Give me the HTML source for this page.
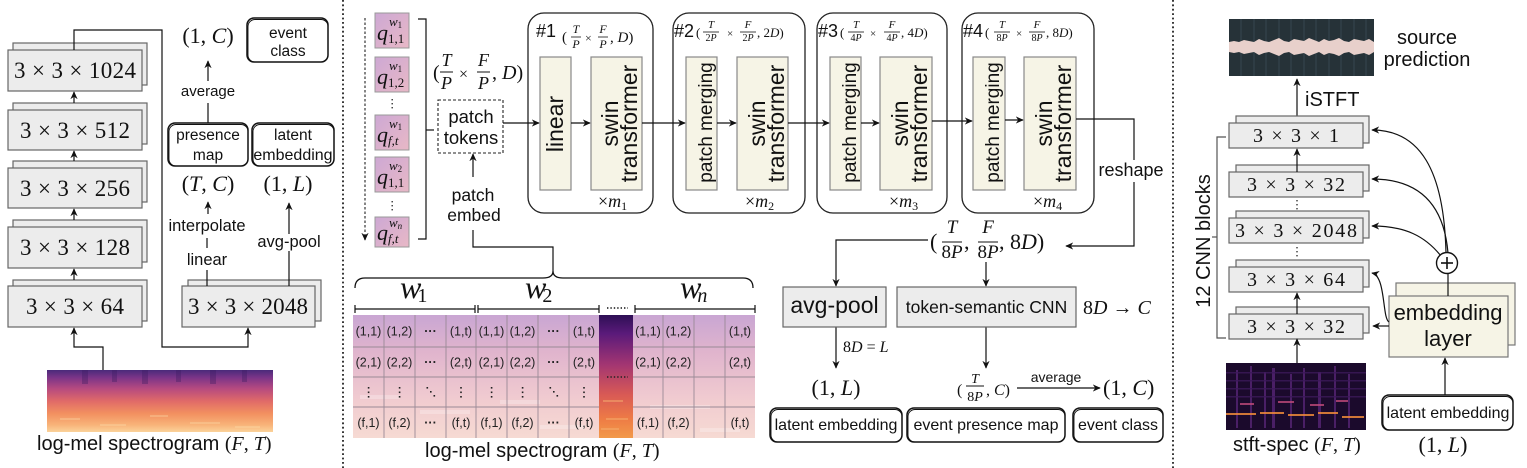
<!DOCTYPE html>
<html><head><meta charset="utf-8">
<style>
html,body{margin:0;padding:0;background:#fff;}
svg{display:block;}
.s{font-family:"Liberation Sans",sans-serif;}
.m{font-family:"Liberation Serif",serif;}
.i{font-style:italic;}
</style></head><body>
<svg width="1527" height="468" viewBox="0 0 1527 468" xmlns="http://www.w3.org/2000/svg">
<defs>
<marker id="ar" viewBox="0 0 10 10" refX="9" refY="5" markerWidth="8" markerHeight="8" orient="auto" markerUnits="userSpaceOnUse"><path d="M0,0.5 L10,5 L0,9.5 L3,5 z" fill="#111"/></marker>
<linearGradient id="qg" x1="0" y1="0" x2="1" y2="1"><stop offset="0" stop-color="#cda8d4"/><stop offset="1" stop-color="#e8b8c6"/></linearGradient>
<linearGradient id="grid" x1="0" y1="0" x2="0" y2="1"><stop offset="0" stop-color="#c9a6d3"/><stop offset="0.3" stop-color="#e0b4cd"/><stop offset="0.7" stop-color="#f1ccd0"/><stop offset="1" stop-color="#f6dad3"/></linearGradient>
<linearGradient id="strip" x1="0" y1="0" x2="0" y2="1"><stop offset="0" stop-color="#2e0f55"/><stop offset="0.15" stop-color="#5a1a7a"/><stop offset="0.4" stop-color="#a23572"/><stop offset="0.65" stop-color="#d95a55"/><stop offset="0.85" stop-color="#ee7c45"/><stop offset="1" stop-color="#f29a4a"/></linearGradient>
<linearGradient id="lspec" x1="0" y1="0" x2="0" y2="1"><stop offset="0" stop-color="#4a2a7a"/><stop offset="0.12" stop-color="#7a3488"/><stop offset="0.3" stop-color="#b64a80"/><stop offset="0.5" stop-color="#e06a68"/><stop offset="0.7" stop-color="#f29060"/><stop offset="0.88" stop-color="#f8b278"/><stop offset="1" stop-color="#fbd29a"/></linearGradient>
</defs>

<line x1="343" y1="0" x2="343" y2="468" stroke="#222" stroke-width="1.8" stroke-dasharray="1.8 2.6"/>
<line x1="1173" y1="0" x2="1173" y2="468" stroke="#222" stroke-width="1.8" stroke-dasharray="1.8 2.6"/>

<!-- ================= LEFT PANEL ================= -->
<g fill="#ececec" stroke="#666" stroke-width="1.2">
<rect x="13" y="43" width="134" height="42"/><rect x="8" y="50" width="134" height="41"/>
<rect x="13" y="103" width="134" height="41"/><rect x="8" y="110" width="134" height="40"/>
<rect x="13" y="161" width="134" height="41"/><rect x="8" y="168" width="134" height="40"/>
<rect x="13" y="220" width="134" height="42"/><rect x="8" y="227" width="134" height="41"/>
<rect x="13" y="280" width="134" height="41"/><rect x="8" y="286" width="134" height="41"/>
<rect x="188" y="280" width="133" height="41"/><rect x="182" y="286" width="133" height="41"/>
</g>
<g class="m" font-size="23" text-anchor="middle" fill="#111">
<text x="75" y="78" textLength="122" lengthAdjust="spacing">3 × 3 × 1024</text>
<text x="75" y="138" textLength="110" lengthAdjust="spacing">3 × 3 × 512</text>
<text x="75" y="196" textLength="110" lengthAdjust="spacing">3 × 3 × 256</text>
<text x="75" y="255" textLength="110" lengthAdjust="spacing">3 × 3 × 128</text>
<text x="75" y="314" textLength="98" lengthAdjust="spacing">3 × 3 × 64</text>
<text x="248" y="314" textLength="120" lengthAdjust="spacing">3 × 3 × 2048</text>
</g>
<g stroke="#111" stroke-width="1.2" fill="none">
<line x1="74" y1="103" x2="74" y2="92" marker-end="url(#ar)"/>
<line x1="74" y1="161" x2="74" y2="151" marker-end="url(#ar)"/>
<line x1="74" y1="220" x2="74" y2="209" marker-end="url(#ar)"/>
<line x1="74" y1="280" x2="74" y2="269" marker-end="url(#ar)"/>
<polyline points="74,50 74,30 162,30 162,347 248,347 248,328" marker-end="url(#ar)"/>
<polyline points="103,370 103,347 74,347 74,328" marker-end="url(#ar)"/>
<line x1="207" y1="286" x2="207" y2="270"/>
<line x1="207" y1="248" x2="207" y2="238"/>
<line x1="208" y1="214" x2="208" y2="202" marker-end="url(#ar)"/>
<line x1="289" y1="286" x2="289" y2="251"/>
<line x1="289" y1="234" x2="289" y2="203" marker-end="url(#ar)"/>
<line x1="208" y1="123" x2="208" y2="103"/>
<line x1="208" y1="81" x2="208" y2="61" marker-end="url(#ar)"/>
</g>
<g class="s" text-anchor="middle" fill="#111">
<text x="207" y="231" font-size="16.5">interpolate</text>
<text x="207" y="265" font-size="16.5">linear</text>
<text x="289" y="247" font-size="16.5">avg-pool</text>
<text x="208" y="96" font-size="15">average</text>
</g>
<g class="m" font-size="22" text-anchor="middle" fill="#111">
<text x="208" y="43">(1, <tspan class="i">C</tspan>)</text>
<text x="208" y="191">(<tspan class="i">T</tspan>, <tspan class="i">C</tspan>)</text>
<text x="288" y="191">(1, <tspan class="i">L</tspan>)</text>
</g>
<g fill="#fff" stroke="#111">
<rect x="247" y="18" width="81" height="44" rx="7" stroke-width="1.5"/>
<rect x="248" y="19.5" width="80" height="42.5" rx="7" fill="none" stroke-width="0.9"/>
<rect x="168" y="123" width="80" height="43" rx="7" stroke-width="1.5"/>
<rect x="169" y="124.5" width="79" height="41.5" rx="7" fill="none" stroke-width="0.9"/>
<rect x="252" y="123" width="82" height="43" rx="7" stroke-width="1.5"/>
<rect x="253" y="124.5" width="81" height="41.5" rx="7" fill="none" stroke-width="0.9"/>
</g>
<g class="s" font-size="15.5" text-anchor="middle" fill="#111">
<text x="288" y="38">event</text><text x="288" y="56">class</text>
<text x="208" y="140">presence</text><text x="208" y="160">map</text>
<text x="293" y="140">latent</text><text x="293" y="160" font-size="16">embedding</text>
</g>
<rect x="47" y="370" width="226" height="62" fill="url(#lspec)"/>
<g fill="#3a1a60" opacity="0.35">
<rect x="82" y="370" width="6" height="14"/><rect x="112" y="370" width="5" height="12"/><rect x="142" y="370" width="6" height="14"/><rect x="176" y="370" width="5" height="12"/><rect x="210" y="370" width="6" height="14"/><rect x="242" y="370" width="5" height="12"/>
</g>
<g fill="#fde2b0" opacity="0.3">
<rect x="60" y="418" width="20" height="2"/><rect x="100" y="424" width="26" height="2"/><rect x="150" y="415" width="18" height="2"/><rect x="190" y="422" width="30" height="2"/><rect x="235" y="426" width="25" height="2"/>
</g>
<text class="s" x="37" y="450" font-size="20" fill="#111">log-mel spectrogram <tspan class="m">(<tspan class="i">F</tspan>, <tspan class="i">T</tspan>)</tspan></text>

<!-- ================= MIDDLE PANEL ================= -->
<line x1="365" y1="18" x2="365" y2="240" stroke="#444" stroke-width="1.3" stroke-dasharray="2.5 2" marker-end="url(#ar)"/>
<g stroke="#999" stroke-width="1" fill="url(#qg)">
<rect x="375" y="13" width="34" height="35"/>
<rect x="375" y="57" width="34" height="35"/>
<rect x="375" y="115" width="34" height="35"/>
<rect x="375" y="157" width="34" height="35"/>
<rect x="375" y="217" width="34" height="30"/>
</g>
<g class="m" fill="#111">
<text x="377" y="40" font-size="22" class="m i">q</text><text x="388" y="43" font-size="13">1,1</text><text x="389" y="26" font-size="13" class="m i">w<tspan font-size="9" font-style="normal" dy="2">1</tspan></text>
<text x="377" y="84" font-size="22" class="m i">q</text><text x="388" y="87" font-size="13">1,2</text><text x="389" y="70" font-size="13" class="m i">w<tspan font-size="9" font-style="normal" dy="2">1</tspan></text>
<text x="377" y="142" font-size="22" class="m i">q</text><text x="388" y="145" font-size="13" class="m i">f,t</text><text x="389" y="128" font-size="13" class="m i">w<tspan font-size="9" font-style="normal" dy="2">1</tspan></text>
<text x="377" y="184" font-size="22" class="m i">q</text><text x="388" y="187" font-size="13">1,1</text><text x="389" y="170" font-size="13" class="m i">w<tspan font-size="9" font-style="normal" dy="2">2</tspan></text>
<text x="377" y="240" font-size="22" class="m i">q</text><text x="388" y="243" font-size="13" class="m i">f,t</text><text x="389" y="227" font-size="13" class="m i">w<tspan font-size="9" dy="2">n</tspan></text>
</g>
<g fill="#333">
<rect x="391.5" y="99" width="1.4" height="1.4"/><rect x="391.5" y="103" width="1.4" height="1.4"/><rect x="391.5" y="107" width="1.4" height="1.4"/>
<rect x="391.5" y="201" width="1.4" height="1.4"/><rect x="391.5" y="205" width="1.4" height="1.4"/><rect x="391.5" y="209" width="1.4" height="1.4"/>
</g>
<polyline points="418,19 426,19 426,239 418,239" fill="none" stroke="#111" stroke-width="1.2"/>
<line x1="426" y1="130" x2="434" y2="130" stroke="#111" stroke-width="1.2"/>
<g class="m" fill="#111">
<text x="433" y="79" font-size="20">(</text>
<text x="446.5" y="66" font-size="18" text-anchor="middle" class="m i">T</text>
<line x1="440" y1="72" x2="453" y2="72" stroke="#111" stroke-width="1"/>
<text x="446.5" y="89" font-size="18" text-anchor="middle" class="m i">P</text>
<text x="459" y="79" font-size="16">×</text>
<text x="483.5" y="66" font-size="18" text-anchor="middle" class="m i">F</text>
<line x1="477" y1="72" x2="490" y2="72" stroke="#111" stroke-width="1"/>
<text x="483.5" y="89" font-size="18" text-anchor="middle" class="m i">P</text>
<text x="492" y="79" font-size="20">, <tspan class="i">D</tspan>)</text>
</g>
<rect x="438" y="100" width="65" height="53" fill="#fff" stroke="#222" stroke-width="1.1" stroke-dasharray="3 2"/>
<g class="s" font-size="18.5" text-anchor="middle" fill="#111">
<text x="471" y="123">patch</text><text x="471" y="144">tokens</text>
<text x="473" y="201" font-size="17.5">patch</text><text x="474" y="221" font-size="17.5">embed</text>
</g>
<line x1="473" y1="177" x2="473" y2="154" stroke="#111" stroke-width="1.2" marker-end="url(#ar)"/>
<polyline points="473,230 473,247 553,247 553,271" fill="none" stroke="#111" stroke-width="1.2"/>

<g fill="none" stroke="#222" stroke-width="1.3">
<rect x="528" y="13" width="125" height="200" rx="16"/>
<rect x="673" y="13" width="132" height="200" rx="16"/>
<rect x="817" y="13" width="130" height="200" rx="16"/>
<rect x="962" y="13" width="132" height="200" rx="16"/>
</g>
<g fill="#f6f4e6" stroke="#888" stroke-width="1.2">
<rect x="540" y="57" width="31" height="133"/><rect x="591" y="57" width="51" height="133"/>
<rect x="686" y="57" width="31" height="133"/><rect x="737" y="57" width="51" height="133"/>
<rect x="830" y="57" width="31" height="133"/><rect x="880" y="57" width="52" height="133"/>
<rect x="973" y="57" width="32" height="133"/><rect x="1024" y="57" width="52" height="133"/>
</g>
<g class="s" fill="#111" text-anchor="middle">
<text transform="translate(563,124) rotate(-90)" font-size="23">linear</text>
<text transform="translate(618,123.5) rotate(-90)" font-size="23">swin</text>
<text transform="translate(637,123.5) rotate(-90)" font-size="23">transformer</text>
<text transform="translate(712,122.5) rotate(-90)" font-size="19">patch merging</text>
<text transform="translate(765,123.5) rotate(-90)" font-size="23">swin</text>
<text transform="translate(784,123.5) rotate(-90)" font-size="23">transformer</text>
<text transform="translate(856,122.5) rotate(-90)" font-size="19">patch merging</text>
<text transform="translate(908,123.5) rotate(-90)" font-size="23">swin</text>
<text transform="translate(927,123.5) rotate(-90)" font-size="23">transformer</text>
<text transform="translate(999,122.5) rotate(-90)" font-size="19">patch merging</text>
<text transform="translate(1052,123.5) rotate(-90)" font-size="23">swin</text>
<text transform="translate(1071,123.5) rotate(-90)" font-size="23">transformer</text>
</g>
<g stroke="#111" stroke-width="1.2" fill="none">
<line x1="503" y1="123" x2="539" y2="123" marker-end="url(#ar)"/>
<line x1="571" y1="123" x2="590" y2="123" marker-end="url(#ar)"/>
<line x1="642" y1="123" x2="685" y2="123" marker-end="url(#ar)"/>
<line x1="717" y1="123" x2="736" y2="123" marker-end="url(#ar)"/>
<line x1="788" y1="123" x2="829" y2="123" marker-end="url(#ar)"/>
<line x1="861" y1="123" x2="879" y2="123" marker-end="url(#ar)"/>
<line x1="932" y1="121" x2="972" y2="121" marker-end="url(#ar)"/>
<line x1="1005" y1="120" x2="1023" y2="120" marker-end="url(#ar)"/>
<polyline points="1076,119 1134,119 1134,246 1066,246" marker-end="url(#ar)"/>
</g>
<rect x="1098" y="160" width="68" height="22" fill="#fff"/>
<text class="s" x="1131" y="176" font-size="18" text-anchor="middle" fill="#111">reshape</text>
<g class="s" font-size="18" fill="#111">
<text x="536" y="37">#1</text><text x="674" y="37">#2</text><text x="818" y="37">#3</text><text x="963" y="37">#4</text>
</g>
<g class="m" fill="#111">
<text x="562" y="42" font-size="15">(</text>
<text x="576" y="33" font-size="12" text-anchor="middle" class="m i">T</text>
<line x1="571" y1="37" x2="581" y2="37" stroke="#111" stroke-width="0.8"/>
<text x="576" y="48" font-size="12" text-anchor="middle" class="m i">P</text>
<text x="585" y="42" font-size="12">×</text>
<text x="603" y="33" font-size="12" text-anchor="middle" class="m i">F</text>
<line x1="598" y1="37" x2="608" y2="37" stroke="#111" stroke-width="0.8"/>
<text x="603" y="48" font-size="12" text-anchor="middle" class="m i">P</text>
<text x="610" y="42" font-size="15">, <tspan class="i">D</tspan>)</text>
<text x="696" y="37" font-size="13">(</text>
<text x="711" y="28" font-size="11" text-anchor="middle" class="m i">T</text>
<line x1="703" y1="32" x2="719" y2="32" stroke="#111" stroke-width="0.8"/>
<text x="711" y="41" font-size="10" text-anchor="middle">2<tspan class="i">P</tspan></text>
<text x="727" y="37" font-size="11">×</text>
<text x="748" y="28" font-size="11" text-anchor="middle" class="m i">F</text>
<line x1="740" y1="32" x2="756" y2="32" stroke="#111" stroke-width="0.8"/>
<text x="748" y="41" font-size="10" text-anchor="middle">2<tspan class="i">P</tspan></text>
<text x="757" y="37" font-size="13">, 2<tspan class="i">D</tspan>)</text>
<text x="840" y="37" font-size="13">(</text>
<text x="856" y="28" font-size="11" text-anchor="middle" class="m i">T</text>
<line x1="848" y1="32" x2="864" y2="32" stroke="#111" stroke-width="0.8"/>
<text x="856" y="41" font-size="10" text-anchor="middle">4<tspan class="i">P</tspan></text>
<text x="870" y="37" font-size="11">×</text>
<text x="892" y="28" font-size="11" text-anchor="middle" class="m i">F</text>
<line x1="884" y1="32" x2="900" y2="32" stroke="#111" stroke-width="0.8"/>
<text x="892" y="41" font-size="10" text-anchor="middle">4<tspan class="i">P</tspan></text>
<text x="901" y="37" font-size="13">, 4<tspan class="i">D</tspan>)</text>
<text x="985" y="37" font-size="13">(</text>
<text x="1002" y="28" font-size="11" text-anchor="middle" class="m i">T</text>
<line x1="994" y1="32" x2="1010" y2="32" stroke="#111" stroke-width="0.8"/>
<text x="1002" y="41" font-size="10" text-anchor="middle">8<tspan class="i">P</tspan></text>
<text x="1016" y="37" font-size="11">×</text>
<text x="1037" y="28" font-size="11" text-anchor="middle" class="m i">F</text>
<line x1="1029" y1="32" x2="1045" y2="32" stroke="#111" stroke-width="0.8"/>
<text x="1037" y="41" font-size="10" text-anchor="middle">8<tspan class="i">P</tspan></text>
<text x="1046" y="37" font-size="13">, 8<tspan class="i">D</tspan>)</text>
<text x="598" y="207" font-size="18">×<tspan class="i">m</tspan><tspan font-size="12" dy="3">1</tspan></text>
<text x="745" y="207" font-size="18">×<tspan class="i">m</tspan><tspan font-size="12" dy="3">2</tspan></text>
<text x="889" y="207" font-size="18">×<tspan class="i">m</tspan><tspan font-size="12" dy="3">3</tspan></text>
<text x="1033" y="207" font-size="18">×<tspan class="i">m</tspan><tspan font-size="12" dy="3">4</tspan></text>
</g>

<g class="m" fill="#111">
<text x="930" y="249" font-size="22">(</text>
<text x="952" y="233" font-size="19" text-anchor="middle" class="m i">T</text>
<line x1="942" y1="242" x2="962" y2="242" stroke="#111" stroke-width="1"/>
<text x="952" y="258" font-size="19" text-anchor="middle">8<tspan class="i">P</tspan></text>
<text x="964" y="249" font-size="22">,</text>
<text x="988" y="233" font-size="19" text-anchor="middle" class="m i">F</text>
<line x1="978" y1="242" x2="998" y2="242" stroke="#111" stroke-width="1"/>
<text x="988" y="258" font-size="19" text-anchor="middle">8<tspan class="i">P</tspan></text>
<text x="999" y="249" font-size="22">, 8<tspan class="i">D</tspan>)</text>
</g>
<g stroke="#111" stroke-width="1.2" fill="none">
<polyline points="928,240 836,240 836,286" marker-end="url(#ar)"/>
<line x1="986" y1="262" x2="986" y2="286" marker-end="url(#ar)"/>
<line x1="836" y1="327" x2="836" y2="368" marker-end="url(#ar)"/>
<line x1="986" y1="327" x2="986" y2="368" marker-end="url(#ar)"/>
<line x1="1017" y1="388" x2="1100" y2="388" marker-end="url(#ar)"/>
</g>
<rect x="783" y="287" width="103" height="40" fill="#ececec" stroke="#666" stroke-width="1.2"/>
<rect x="897" y="287" width="179" height="40" fill="#ececec" stroke="#666" stroke-width="1.2"/>
<text class="s" x="834.5" y="313" font-size="23" text-anchor="middle" fill="#111">avg-pool</text>
<text class="s" x="986.5" y="313" font-size="17.5" text-anchor="middle" fill="#111">token-semantic CNN</text>
<g class="m" fill="#111">
<text x="1083" y="314" font-size="20">8<tspan class="i">D</tspan> → <tspan class="i">C</tspan></text>
<text x="843" y="352" font-size="16">8<tspan class="i">D</tspan> = <tspan class="i">L</tspan></text>
<text x="836" y="395" font-size="22" text-anchor="middle">(1, <tspan class="i">L</tspan>)</text>
<text x="957" y="395" font-size="16">(</text>
<text x="975" y="383" font-size="14" text-anchor="middle" class="m i">T</text>
<line x1="966" y1="386" x2="984" y2="386" stroke="#111" stroke-width="0.9"/>
<text x="975" y="401" font-size="14" text-anchor="middle">8<tspan class="i">P</tspan></text>
<text x="986" y="395" font-size="16">, <tspan class="i">C</tspan>)</text>
<text x="1103" y="395" font-size="22">(1, <tspan class="i">C</tspan>)</text>
</g>
<text class="s" x="1056" y="382" font-size="14" text-anchor="middle" fill="#111">average</text>
<g fill="#fff" stroke="#111">
<rect x="770" y="408" width="132" height="34" rx="7" stroke-width="1.5"/>
<rect x="771" y="409.5" width="131" height="32.5" rx="7" fill="none" stroke-width="0.9"/>
<rect x="907" y="408" width="158" height="34" rx="7" stroke-width="1.5"/>
<rect x="908" y="409.5" width="157" height="32.5" rx="7" fill="none" stroke-width="0.9"/>
<rect x="1073" y="408" width="90" height="34" rx="7" stroke-width="1.5"/>
<rect x="1074" y="409.5" width="89" height="32.5" rx="7" fill="none" stroke-width="0.9"/>
</g>
<g class="s" font-size="16" text-anchor="middle" fill="#111">
<text x="836" y="430">latent embedding</text>
<text x="986" y="430">event presence map</text>
<text x="1118" y="430">event class</text>
</g>

<path d="M355,288 Q355,278 365,278 L543,278 Q553,278 553,271 Q553,278 563,278 L743,278 Q753,278 753,288" fill="none" stroke="#111" stroke-width="1.3"/>
<g class="m" fill="#111">
<text x="400" y="298" font-size="32" class="m i">w<tspan font-size="20" font-style="normal" dx="-4" dy="4">1</tspan></text>
<text x="525" y="298" font-size="32" class="m i">w<tspan font-size="20" font-style="normal" dx="-4" dy="4">2</tspan></text>
<text x="680" y="298" font-size="32" class="m i">w<tspan font-size="20" dx="-4" dy="4">n</tspan></text>
</g>
<g stroke="#111" stroke-width="1.2">
<line x1="355" y1="309" x2="475" y2="309"/><line x1="355" y1="305" x2="355" y2="313"/><line x1="475" y1="305" x2="475" y2="313"/>
<line x1="478" y1="309" x2="599" y2="309"/><line x1="478" y1="305" x2="478" y2="313"/><line x1="599" y1="305" x2="599" y2="313"/>
<line x1="635" y1="309" x2="755" y2="309"/><line x1="635" y1="305" x2="635" y2="313"/><line x1="755" y1="305" x2="755" y2="313"/>
</g>
<line x1="607" y1="308" x2="628" y2="308" stroke="#111" stroke-width="1.4" stroke-dasharray="1.4 2"/>
<rect x="353" y="315" width="402" height="123" fill="url(#grid)"/>
<g fill="#fff" opacity="0.25">
<rect x="360" y="395" width="40" height="4"/><rect x="420" y="410" width="50" height="4"/><rect x="500" y="400" width="40" height="4"/><rect x="540" y="425" width="45" height="4"/><rect x="650" y="405" width="60" height="4"/><rect x="700" y="428" width="40" height="4"/>
</g>
<rect x="599" y="315" width="34" height="123" fill="url(#strip)"/>
<g fill="#f5b070" opacity="0.5"><rect x="603" y="400" width="20" height="2"/><rect x="606" y="418" width="22" height="2"/><rect x="601" y="428" width="18" height="2"/></g>
<g stroke="#9a8a96" stroke-width="0.9">
<line x1="384" y1="315" x2="384" y2="438"/><line x1="415" y1="315" x2="415" y2="438"/><line x1="446" y1="315" x2="446" y2="438"/><line x1="476" y1="315" x2="476" y2="438"/>
<line x1="507" y1="315" x2="507" y2="438"/><line x1="538" y1="315" x2="538" y2="438"/><line x1="569" y1="315" x2="569" y2="438"/>
<line x1="663" y1="315" x2="663" y2="438"/><line x1="694" y1="315" x2="694" y2="438"/><line x1="725" y1="315" x2="725" y2="438"/>
<line x1="353" y1="347" x2="599" y2="347"/><line x1="353" y1="377" x2="599" y2="377"/><line x1="353" y1="407" x2="599" y2="407"/>
<line x1="633" y1="347" x2="755" y2="347"/><line x1="633" y1="377" x2="755" y2="377"/><line x1="633" y1="407" x2="755" y2="407"/>
</g>
<line x1="607" y1="377" x2="628" y2="377" stroke="#222" stroke-width="1.4" stroke-dasharray="1.4 2"/>
<g class="s" font-size="12.5" text-anchor="middle" fill="#222">
<text x="368.5" y="335.5">(1,1)</text><text x="399.5" y="335.5">(1,2)</text><text x="430.5" y="335.5" font-weight="bold">···</text><text x="461" y="335.5">(1,t)</text>
<text x="491.5" y="335.5">(1,1)</text><text x="522.5" y="335.5">(1,2)</text><text x="553.5" y="335.5" font-weight="bold">···</text><text x="584" y="335.5">(1,t)</text>
<text x="648" y="335.5">(1,1)</text><text x="678.5" y="335.5">(1,2)</text><text x="740" y="335.5">(1,t)</text>
<text x="368.5" y="366.5">(2,1)</text><text x="399.5" y="366.5">(2,2)</text><text x="430.5" y="366.5" font-weight="bold">···</text><text x="461" y="366.5">(2,t)</text>
<text x="491.5" y="366.5">(2,1)</text><text x="522.5" y="366.5">(2,2)</text><text x="553.5" y="366.5" font-weight="bold">···</text><text x="584" y="366.5">(2,t)</text>
<text x="648" y="366.5">(2,1)</text><text x="678.5" y="366.5">(2,2)</text><text x="740" y="366.5">(2,t)</text>
<text x="368.5" y="427">(f,1)</text><text x="399.5" y="427">(f,2)</text><text x="430.5" y="427" font-weight="bold">···</text><text x="461" y="427">(f,t)</text>
<text x="491.5" y="427">(f,1)</text><text x="522.5" y="427">(f,2)</text><text x="553.5" y="427" font-weight="bold">···</text><text x="584" y="427">(f,t)</text>
<text x="648" y="427">(f,1)</text><text x="678.5" y="427">(f,2)</text><text x="740" y="427">(f,t)</text>
</g>
<g fill="#222">
<rect x="367.8" y="387" width="1.6" height="1.6"/><rect x="367.8" y="391.5" width="1.6" height="1.6"/><rect x="367.8" y="396" width="1.6" height="1.6"/>
<rect x="398.8" y="387" width="1.6" height="1.6"/><rect x="398.8" y="391.5" width="1.6" height="1.6"/><rect x="398.8" y="396" width="1.6" height="1.6"/>
<rect x="426.5" y="387" width="1.6" height="1.6"/><rect x="430" y="391" width="1.6" height="1.6"/><rect x="433.5" y="395" width="1.6" height="1.6"/>
<rect x="460.2" y="387" width="1.6" height="1.6"/><rect x="460.2" y="391.5" width="1.6" height="1.6"/><rect x="460.2" y="396" width="1.6" height="1.6"/>
<rect x="490.8" y="387" width="1.6" height="1.6"/><rect x="490.8" y="391.5" width="1.6" height="1.6"/><rect x="490.8" y="396" width="1.6" height="1.6"/>
<rect x="521.8" y="387" width="1.6" height="1.6"/><rect x="521.8" y="391.5" width="1.6" height="1.6"/><rect x="521.8" y="396" width="1.6" height="1.6"/>
<rect x="549.5" y="387" width="1.6" height="1.6"/><rect x="553" y="391" width="1.6" height="1.6"/><rect x="556.5" y="395" width="1.6" height="1.6"/>
<rect x="583.2" y="387" width="1.6" height="1.6"/><rect x="583.2" y="391.5" width="1.6" height="1.6"/><rect x="583.2" y="396" width="1.6" height="1.6"/>
</g>
<text class="s" x="425" y="457" font-size="20" fill="#111">log-mel spectrogram <tspan class="m">(<tspan class="i">F</tspan>, <tspan class="i">T</tspan>)</tspan></text>

<!-- ================= RIGHT PANEL ================= -->
<rect x="1229" y="19" width="145" height="57" fill="#263238"/>
<g stroke="#36474f" stroke-width="1">
<line x1="1241" y1="19" x2="1241" y2="76"/><line x1="1254" y1="19" x2="1254" y2="76"/><line x1="1266" y1="19" x2="1266" y2="76"/><line x1="1279" y1="19" x2="1279" y2="76"/><line x1="1291" y1="19" x2="1291" y2="76"/><line x1="1304" y1="19" x2="1304" y2="76"/><line x1="1316" y1="19" x2="1316" y2="76"/><line x1="1329" y1="19" x2="1329" y2="76"/><line x1="1341" y1="19" x2="1341" y2="76"/><line x1="1354" y1="19" x2="1354" y2="76"/><line x1="1366" y1="19" x2="1366" y2="76"/>
</g>
<polygon fill="#e8d0cb" points="1229,42 1234,41 1239,42 1244,40 1249,41 1254,42 1259,39 1264,41 1269,42 1274,40 1279,38 1284,41 1289,42 1294,39 1299,40 1304,41 1309,38 1314,40 1319,42 1324,39 1329,41 1334,40 1339,38 1344,41 1349,42 1354,39 1359,40 1364,41 1369,39 1374,42 1374,52 1369,55 1364,53 1359,54 1354,55 1349,52 1344,53 1339,56 1334,54 1329,53 1324,55 1319,52 1314,54 1309,56 1304,53 1299,54 1294,55 1289,52 1284,53 1279,56 1274,54 1269,52 1264,53 1259,55 1254,52 1249,53 1244,54 1239,52 1234,53 1229,52"/>
<g class="s" font-size="20" text-anchor="middle" fill="#111">
<text x="1427" y="44">source</text><text x="1427" y="66">prediction</text>
</g>
<text class="s" x="1305" y="106" font-size="20" fill="#111">iSTFT</text>
<line x1="1297" y1="123" x2="1297" y2="79" stroke="#111" stroke-width="1.2" marker-end="url(#ar)"/>
<g fill="#ececec" stroke="#666" stroke-width="1.2">
<rect x="1236" y="116" width="133" height="27"/><rect x="1229" y="123" width="134" height="25"/>
<rect x="1236" y="165" width="133" height="26"/><rect x="1229" y="172" width="134" height="25"/>
<rect x="1236" y="211" width="133" height="27"/><rect x="1229" y="218" width="134" height="25"/>
<rect x="1236" y="260" width="133" height="27"/><rect x="1229" y="267" width="134" height="25"/>
<rect x="1236" y="307" width="133" height="26"/><rect x="1229" y="314" width="134" height="25"/>
</g>
<g class="m" font-size="20" text-anchor="middle" fill="#111">
<text x="1296" y="142" textLength="86" lengthAdjust="spacing">3 × 3 × 1</text>
<text x="1296" y="191" textLength="98" lengthAdjust="spacing">3 × 3 × 32</text>
<text x="1296" y="237" textLength="122" lengthAdjust="spacing">3 × 3 × 2048</text>
<text x="1296" y="286" textLength="98" lengthAdjust="spacing">3 × 3 × 64</text>
<text x="1296" y="333" textLength="98" lengthAdjust="spacing">3 × 3 × 32</text>
</g>
<g stroke="#111" stroke-width="1.2" fill="none">
<line x1="1297" y1="172" x2="1297" y2="149" marker-end="url(#ar)"/>
<line x1="1297" y1="314" x2="1297" y2="293" marker-end="url(#ar)"/>
<line x1="1297" y1="363" x2="1297" y2="339" marker-end="url(#ar)"/>
</g>
<g fill="#333">
<rect x="1296.3" y="200" width="1.4" height="1.4"/><rect x="1296.3" y="204" width="1.4" height="1.4"/><rect x="1296.3" y="208" width="1.4" height="1.4"/>
<rect x="1296.3" y="247" width="1.4" height="1.4"/><rect x="1296.3" y="251" width="1.4" height="1.4"/><rect x="1296.3" y="255" width="1.4" height="1.4"/>
</g>
<polyline points="1226,137 1217,137 1217,338 1226,338" fill="none" stroke="#555" stroke-width="1.2"/>
<line x1="1212" y1="237" x2="1217" y2="237" stroke="#555" stroke-width="1.2"/>
<text class="s" transform="translate(1210,241) rotate(-90)" font-size="20" text-anchor="middle" fill="#111">12 CNN blocks</text>
<rect x="1226" y="363" width="140" height="67" fill="#1b0a2c"/>
<g fill="#6a2e8e" opacity="0.6">
<rect x="1236" y="370" width="2" height="58"/><rect x="1250" y="366" width="2" height="62"/><rect x="1264" y="372" width="2" height="56"/><rect x="1272" y="368" width="3" height="60"/><rect x="1290" y="374" width="2" height="54"/><rect x="1303" y="368" width="2" height="60"/><rect x="1318" y="372" width="3" height="56"/><rect x="1334" y="366" width="2" height="62"/><rect x="1348" y="374" width="2" height="54"/>
</g>
<g fill="#3c1a5a" opacity="0.8">
<rect x="1226" y="372" width="140" height="1.5"/><rect x="1226" y="380" width="140" height="1.5"/><rect x="1226" y="388" width="140" height="1.5"/><rect x="1226" y="396" width="140" height="1.5"/>
</g>
<g fill="#f08a3a" opacity="0.85">
<rect x="1226" y="413" width="30" height="2"/><rect x="1260" y="412" width="24" height="2"/><rect x="1288" y="414" width="26" height="2"/><rect x="1318" y="412" width="20" height="2"/><rect x="1342" y="416" width="22" height="2"/>
</g>
<g fill="#c04a7a" opacity="0.8">
<rect x="1240" y="403" width="14" height="2"/><rect x="1278" y="401" width="16" height="2"/><rect x="1310" y="404" width="14" height="2"/><rect x="1336" y="400" width="12" height="2"/>
</g>
<text class="s" x="1233" y="451" font-size="20" fill="#111">stft-spec <tspan class="m">(<tspan class="i">F</tspan>, <tspan class="i">T</tspan>)</tspan></text>
<rect x="1396" y="283" width="119" height="62" fill="#f6f4e6" stroke="#777" stroke-width="1.2"/>
<rect x="1389" y="296" width="119" height="61" fill="#f6f4e6" stroke="#777" stroke-width="1.2"/>
<g class="s" font-size="22" text-anchor="middle" fill="#111">
<text x="1448" y="320">embedding</text><text x="1448" y="346">layer</text>
</g>
<rect x="1382" y="395" width="131" height="35" rx="7" fill="#fff" stroke="#111" stroke-width="1.5"/>
<rect x="1383" y="396.5" width="130" height="33.5" rx="7" fill="none" stroke="#111" stroke-width="0.9"/>
<text class="s" x="1448" y="418" font-size="16" text-anchor="middle" fill="#111">latent embedding</text>
<text class="m" x="1443" y="452" font-size="22" text-anchor="middle" fill="#111">(1, <tspan class="i">L</tspan>)</text>
<g stroke="#111" stroke-width="1.2" fill="none">
<line x1="1445" y1="395" x2="1445" y2="358" marker-end="url(#ar)"/>
<line x1="1448" y1="296" x2="1448" y2="274"/>
<path d="M1446,253 C1444,170 1420,130 1372,130" marker-end="url(#ar)"/>
<path d="M1448,253 C1444,205 1420,179 1372,179" marker-end="url(#ar)"/>
<path d="M1441,256 C1425,236 1405,226 1372,226" marker-end="url(#ar)"/>
<path d="M1389,326 L1373,326" marker-end="url(#ar)"/>
<path d="M1389,322 C1382,318 1386,276 1372,273" marker-end="url(#ar)"/>
</g>
<circle cx="1447" cy="263" r="10.5" fill="#fff" stroke="#111" stroke-width="1.4"/>
<line x1="1441" y1="263" x2="1453" y2="263" stroke="#111" stroke-width="1.6"/>
<line x1="1447" y1="257" x2="1447" y2="269" stroke="#111" stroke-width="1.6"/>
</svg>
</body></html>
